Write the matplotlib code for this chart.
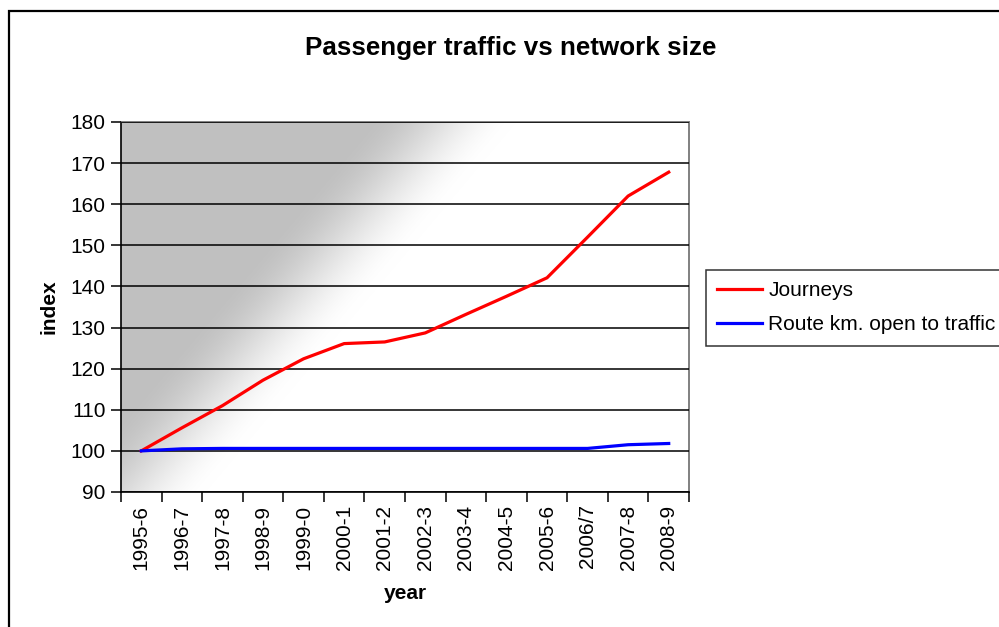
import numpy as np
import matplotlib.pyplot as plt
from matplotlib.patches import Rectangle

plt.rcParams['font.family'] = ['Liberation Sans', 'DejaVu Sans']

years = ['1995-6', '1996-7', '1997-8', '1998-9', '1999-0', '2000-1', '2001-2',
         '2002-3', '2003-4', '2004-5', '2005-6', '2006/7', '2007-8', '2008-9']
journeys = [100, 105.6, 111, 117.2, 122.4, 126.1, 126.5, 128.7, 133.2, 137.6,
            142.1, 152, 162, 167.8]
route_km = [100, 100.5, 100.6, 100.6, 100.6, 100.6, 100.6, 100.6, 100.6, 100.6,
            100.6, 100.6, 101.5, 101.8]

W, H = 999, 627
fig = plt.figure(figsize=(W / 100, H / 100), dpi=100)
fig.patch.set_facecolor('white')

# chart area border (runs off the right and bottom edges)
fig.patches.append(Rectangle((9 / W, -0.1), 1.2, 1 - 11 / H + 0.1,
                             transform=fig.transFigure, fill=False,
                             edgecolor='black', linewidth=1.6))

ax_l, ax_t, ax_r, ax_b = 121, 122, 689, 492
ax = fig.add_axes([ax_l / W, 1 - ax_b / H, (ax_r - ax_l) / W, (ax_b - ax_t) / H])

# diagonal grey-to-white fill of the plot area
pw, ph = ax_r - ax_l, ax_b - ax_t
xx, yy = np.meshgrid(np.arange(pw), np.arange(ph))
t = np.clip((xx + 0.84 * yy - 245) / 150.0, 0, 1)
t = t * t * (3 - 2 * t)
shade = 192 + (255 - 192) * t
img = np.dstack([shade, shade, shade]) / 255.0
ax.imshow(img, extent=[0, 1, 0, 1], transform=ax.transAxes, aspect='auto',
          zorder=0, interpolation='bilinear')

x = np.arange(len(years))
ax.plot(x, journeys, color='#ff0000', linewidth=2.3, label='Journeys', zorder=3)
ax.plot(x, route_km, color='#0000ff', linewidth=2.3,
        label='Route km. open to traffic', zorder=3)

ax.set_xlim(-0.5, len(years) - 0.5)
ax.set_ylim(90, 180)
ax.set_yticks(np.arange(90, 181, 10))
ax.yaxis.grid(True, color='black', linewidth=1.1)
ax.set_axisbelow(False)
for gl in ax.get_ygridlines():
    gl.set_zorder(1)

ax.set_xticks(np.arange(-0.5, len(years), 1.0))
ax.set_xticklabels([])
ax.set_xticks(x, minor=True)
ax.set_xticklabels(years, minor=True, rotation=90)
ax.tick_params(axis='x', which='major', length=7, width=1.1, direction='out')
ax.tick_params(axis='x', which='minor', length=0, pad=9, labelsize=15)
ax.tick_params(axis='y', length=7, width=1.1, direction='out', pad=4, labelsize=15)

for side in ('left', 'bottom'):
    ax.spines[side].set_color('black')
    ax.spines[side].set_linewidth(1.2)
for side in ('top', 'right'):
    ax.spines[side].set_color('#808080')
    ax.spines[side].set_linewidth(1.4)

ax.set_xlabel('year', fontsize=15, fontweight='bold', labelpad=10)
ax.set_ylabel('index', fontsize=15, fontweight='bold', labelpad=9)

fig.text(511 / W, 1 - 48 / H, 'Passenger traffic vs network size',
         fontsize=18.7, fontweight='bold', ha='center', va='center')

leg = fig.legend(loc='upper left', bbox_to_anchor=(706 / W, 1 - 270 / H),
                 fontsize=15, frameon=True, fancybox=False, handlelength=2.15,
                 borderpad=0.55, labelspacing=0.72, handletextpad=0.3,
                 borderaxespad=0)
leg.get_frame().set_edgecolor('black')
leg.get_frame().set_linewidth(1.1)

fig.savefig('out.png', dpi=100)
